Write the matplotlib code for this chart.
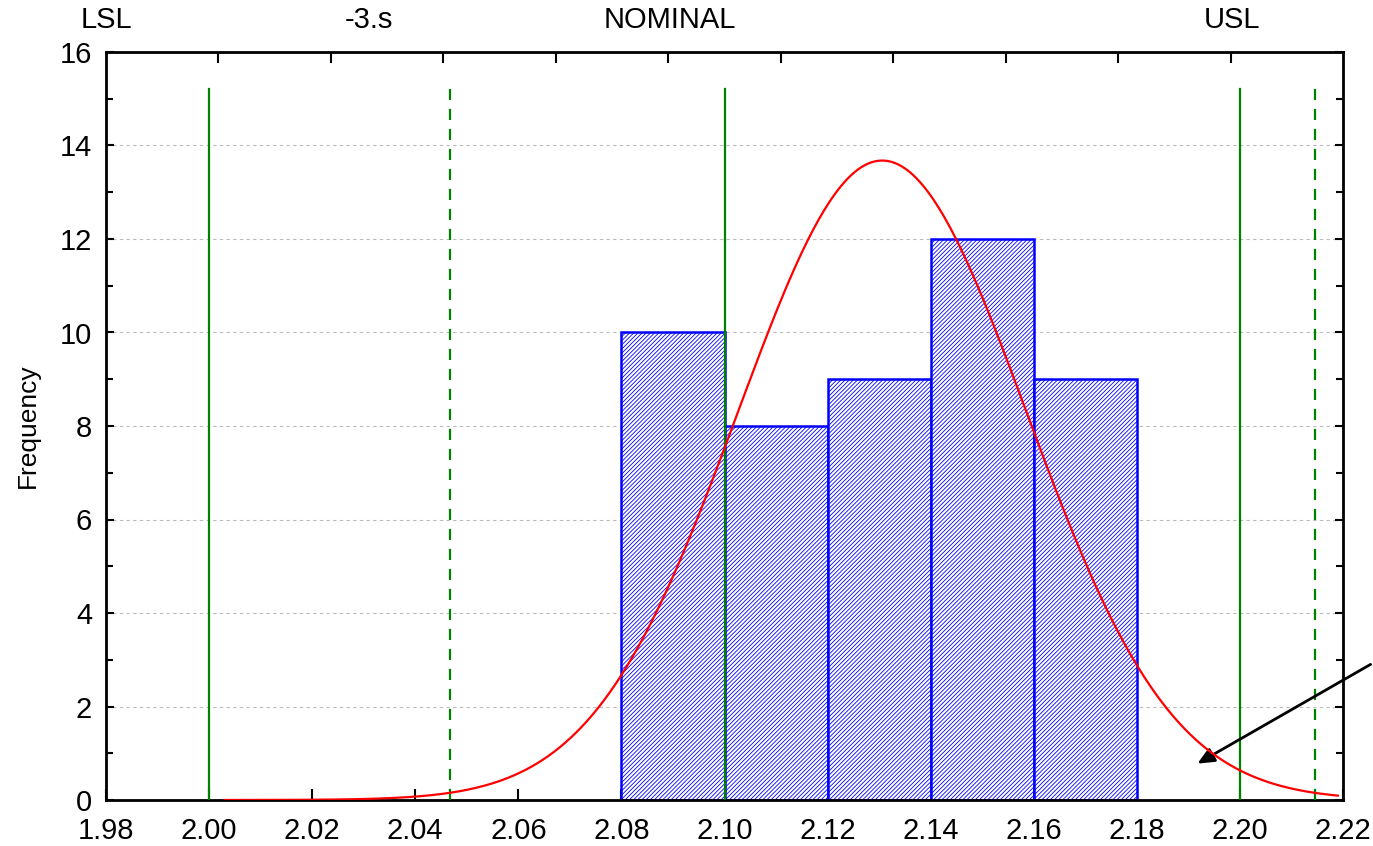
import numpy as np
import matplotlib
matplotlib.use("Agg")
import matplotlib.pyplot as plt
from matplotlib.ticker import MultipleLocator, FixedLocator

plt.rcParams['font.family'] = ['Liberation Sans', 'DejaVu Sans']
plt.rcParams['hatch.linewidth'] = 0.6
plt.rcParams['hatch.color'] = '#4a4aff'

bin_edges = [2.08, 2.10, 2.12, 2.14, 2.16, 2.18]
counts = [10, 8, 9, 12, 9]
mean = 2.1306
sigma = 0.028
n_total = 48
solid_lines = [2.00, 2.10, 2.20]
dashed_lines = [2.0467, 2.2146]
top_labels = ["LSL", "-3.s", "NOMINAL", "USL"]
top_label_x = [1.980, 2.031, 2.0894, 2.1985]
x_ticks = [1.98, 2.00, 2.02, 2.04, 2.06, 2.08, 2.10, 2.12, 2.14, 2.16, 2.18, 2.20, 2.22]
y_ticks = [0, 2, 4, 6, 8, 10, 12, 14, 16]

fig = plt.figure(figsize=(13.73, 8.46), dpi=100)
ax = fig.add_axes([106/1373, 1-800/846, (1343-106)/1373, (800-52)/846])

widths = np.diff(bin_edges)
ax.bar(bin_edges[:-1], counts, width=widths, align='edge', facecolor='white',
       edgecolor='#0000ff', linewidth=1.8, hatch='////////', zorder=2)

xs = np.linspace(2.003, 2.219, 400)
bw = bin_edges[1] - bin_edges[0]
ys = n_total * bw / (sigma * np.sqrt(2 * np.pi)) * np.exp(-0.5 * ((xs - mean) / sigma) ** 2)
ax.plot(xs, ys, color='#ff0000', lw=1.6, zorder=4)

for xv in solid_lines:
    ax.plot([xv, xv], [0, 15.2], color='#008000', lw=1.6, zorder=3)
for xv in dashed_lines:
    ax.plot([xv, xv], [0, 15.2], color='#008000', lw=1.6, ls=(0, (5, 4)), zorder=3)

ax.set_xlim(1.98, 2.22)
ax.set_ylim(0, 16)
ax.xaxis.set_major_locator(FixedLocator(x_ticks))
ax.set_xticklabels([f"{v:.2f}" for v in x_ticks])
ax.yaxis.set_major_locator(FixedLocator(y_ticks))
ax.yaxis.set_minor_locator(MultipleLocator(1))
ax.grid(axis='y', color='#bbbbbb', ls=(0, (3, 3)), lw=0.8, zorder=0)
ax.set_axisbelow(True)
ax.tick_params(axis='both', which='both', direction='in', labelsize=21, width=1.5, colors='black')
ax.tick_params(axis='x', which='major', length=8, pad=12)
ax.tick_params(axis='y', which='major', length=6, pad=10, right=True)
ax.tick_params(axis='y', which='minor', length=5, right=True)
for s in ax.spines.values():
    s.set_linewidth(2)
    s.set_color('black')
ax.set_ylabel("Frequency", fontsize=19, labelpad=14)

top = ax.twiny()
top.set_xlim(0, 11)
top.set_xticks(range(1, 11))
top.set_xticklabels([])
top.tick_params(axis='x', direction='in', length=8, width=1.5)

for lab, xv in zip(top_labels, top_label_x):
    ax.text(xv, 1.043, lab, transform=ax.get_xaxis_transform(), ha='center', va='center', fontsize=21)

ax.annotate("", xy=(1195/1373, 1-765/846), xycoords='figure fraction',
            xytext=(1.0, 1-663/846), textcoords='figure fraction',
            arrowprops=dict(arrowstyle='-|>,head_length=1.0,head_width=0.45', color='black', lw=2),
            annotation_clip=False)

fig.savefig("out.png", dpi=100)
